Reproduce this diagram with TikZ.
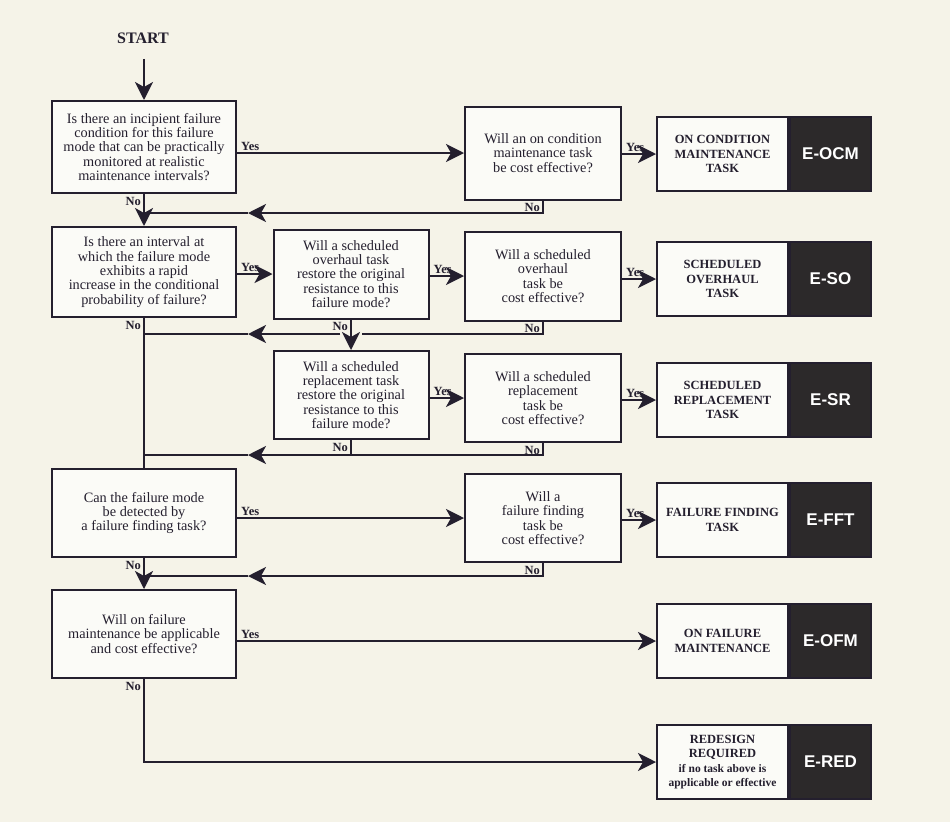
\documentclass[tikz,border=0pt]{standalone}
\usepackage{fontspec}
\setmainfont{Liberation Serif}
\newfontfamily\codefont{Liberation Sans}
\usetikzlibrary{arrows.meta, positioning}

\definecolor{paper}{RGB}{245,243,232}
\definecolor{ink}{RGB}{36,31,46}
\definecolor{codefill}{RGB}{44,41,42}

\tikzset{
  question/.style={draw=ink, line width=2pt, fill=white!65!paper, align=center,
    text=ink, font=\fontsize{14.3}{14.4}\selectfont, inner sep=1pt},
  taskbox/.style={draw=ink, line width=2pt, fill=white!65!paper, align=center,
    text=ink, font=\bfseries\fontsize{12.5}{14.5}\selectfont,
    minimum width=131pt, minimum height=74pt, inner sep=1pt},
  codebox/.style={draw=ink, line width=2pt, fill=codefill, text=white,
    font=\codefont\bfseries\fontsize{17}{19}\selectfont,
    minimum width=81pt, minimum height=74pt},
  flow/.style={draw=ink, line width=2.2pt},
  tip/.style={-{Stealth[length=18pt, width=18pt, inset=5pt]}},
  lbl/.style={text=ink, font=\bfseries\fontsize{12.5}{13}\selectfont, inner sep=1pt},
}

\begin{document}
\begin{tikzpicture}[x=1pt, y=-1pt]
  % Page
  \fill[paper] (0,0) rectangle (950,822);
  \useasboundingbox (0,0) rectangle (950,822);

  \node[text=ink, font=\bfseries\fontsize{16}{18}\selectfont] (start) at (143,38) {START};

  % Questions on the main line
  \node[question, minimum width=184pt, minimum height=92pt] (q1) at (144,147)
    {Is there an incipient failure\\condition for this failure\\mode that can be practically\\monitored at realistic\\maintenance intervals?};
  \node[question, minimum width=184pt, minimum height=90pt] (q3) at (144,272)
    {Is there an interval at\\which the failure mode\\exhibits a rapid\\increase in the conditional\\probability of failure?};
  \node[question, minimum width=184pt, minimum height=88pt] (q7) at (144,513)
    {Can the failure mode\\be detected by\\a failure finding task?};
  \node[question, minimum width=184pt, minimum height=88pt] (q10) at (144,634)
    {Will on failure\\maintenance be applicable\\and cost effective?};

  % Restoration questions
  \node[question, minimum width=155pt, minimum height=89pt] (q4) at (351,274)
    {Will a scheduled\\overhaul task\\restore the original\\resistance to this\\failure mode?};
  \node[question, minimum width=155pt, minimum height=88pt] (q6) at (351,395)
    {Will a scheduled\\replacement task\\restore the original\\resistance to this\\failure mode?};

  % Cost questions
  \node[question, minimum width=156pt, minimum height=93pt] (q2) at (543,153)
    {Will an on condition\\maintenance task\\be cost effective?};
  \node[question, minimum width=156pt, minimum height=89pt] (q5) at (543,276)
    {Will a scheduled\\overhaul\\task be\\cost effective?};
  \node[question, minimum width=156pt, minimum height=88pt] (q8) at (543,398)
    {Will a scheduled\\replacement\\task be\\cost effective?};
  \node[question, minimum width=156pt, minimum height=88pt] (q9) at (543,518)
    {Will a\\failure finding\\task be\\cost effective?};

  % Task boxes and their codes
  \node[taskbox] (t1) at (722.5,154) {ON CONDITION\\MAINTENANCE\\TASK};
  \node[taskbox] (t2) at (722.5,279) {SCHEDULED\\OVERHAUL\\TASK};
  \node[taskbox] (t3) at (722.5,400) {SCHEDULED\\REPLACEMENT\\TASK};
  \node[taskbox] (t4) at (722.5,520) {FAILURE FINDING\\TASK};
  \node[taskbox] (t5) at (722.5,641) {ON FAILURE\\MAINTENANCE};
  \node[taskbox] (t6) at (722.5,762)
    {REDESIGN\\REQUIRED\\{\fontsize{11.5}{14.5}\selectfont if no task above is}\\{\fontsize{11.5}{14.5}\selectfont applicable or effective}};
  \foreach \t/\c in {t1/E-OCM, t2/E-SO, t3/E-SR, t4/E-FFT, t5/E-OFM, t6/E-RED} {
    \node[codebox, right=0pt of \t] (c-\t) {\c};
  }

  % Yes branches
  \foreach \a/\b in {q1/q2, q2/t1, q3/q4, q4/q5, q5/t2, q6/q8, q8/t3, q7/q9, q9/t4, q10/t5} {
    \draw[flow, tip] (\a.east |- \b.west) node[lbl, above right, xshift=2pt] (y-\a) {Yes} -- (\b.west);
  }

  % Main line
  \draw[flow, tip] ([yshift=-12pt]start.south -| q1.north) -- (q1.north);
  \draw[flow, tip] (q1.south) -- (q3.north);
  \draw[flow] (q3.south) -- (q7.north);
  \draw[flow, tip] (q7.south) -- (q10.north);
  \draw[flow, tip] (q10.south) |- (t6.west);
  \draw[flow, tip] (q4.south) -- (q6.north);

  % No branches back to the main line
  \coordinate (r1) at (248,213);
  \coordinate (r3) at (248,455);
  \coordinate (r4) at (248,576);
  \foreach \q/\r in {q2/r1, q8/r3, q9/r4} {
    \draw[flow, tip] (\q.south) |- (\r);
    \draw[flow] (\r) -- (q1.south |- \r);
  }
  \draw[flow] (q6.south) -- (q6.south |- r3);

  % q5 passes over the q4 -> q6 line
  \coordinate (r2) at (248,334);
  \coordinate (g2r) at (362,334);
  \coordinate (g2l) at (340,334);
  \draw[flow] (q5.south) |- (g2r);
  \draw[flow, tip] (g2l) -- (r2);
  \draw[flow] (r2) -- (q1.south |- r2);

  % No labels
  \foreach \q in {q1, q2, q3, q4, q5, q6, q7, q8, q9, q10} {
    \node[lbl, anchor=north east] (n-\q) at ([xshift=-2pt, yshift=-2pt]\q.south) {No};
  }
\end{tikzpicture}
\end{document}
